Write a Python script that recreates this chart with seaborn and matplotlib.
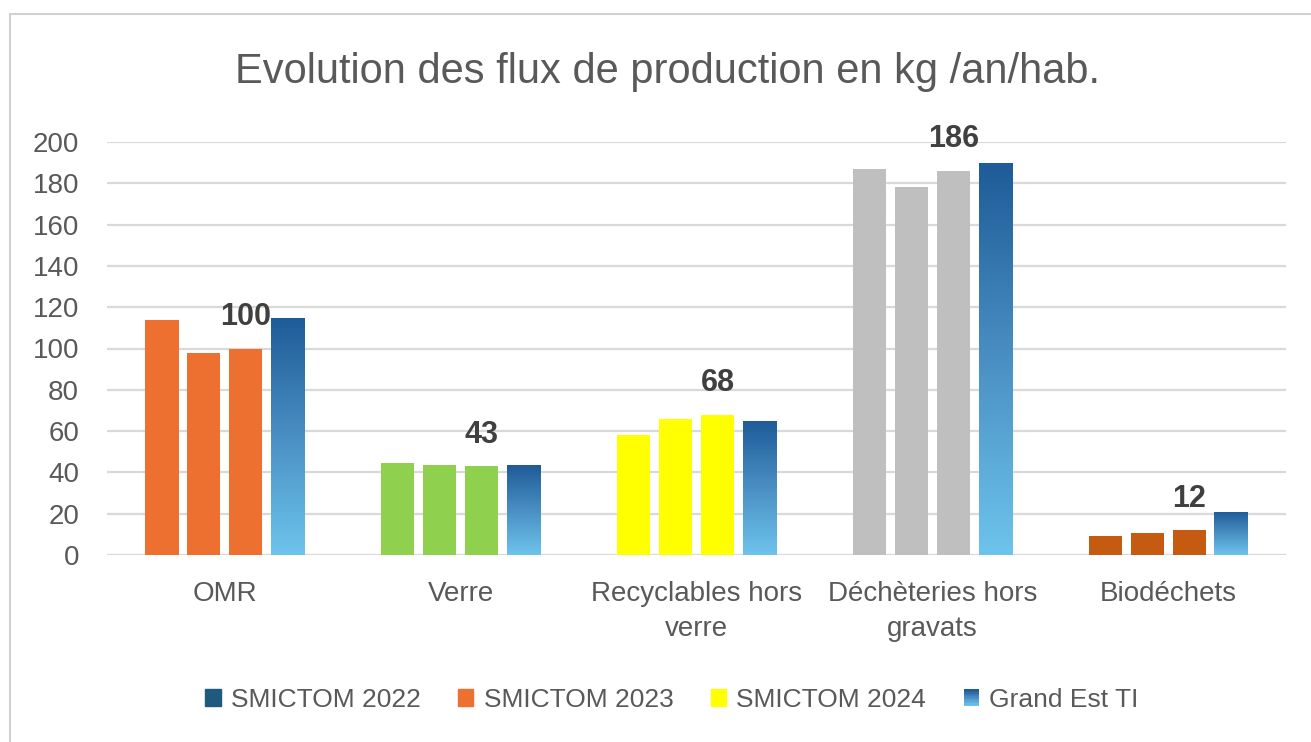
import numpy as np
import pandas as pd
import matplotlib
matplotlib.use("Agg")
import matplotlib.pyplot as plt
import seaborn as sns
from matplotlib.colors import LinearSegmentedColormap
from matplotlib.patches import Rectangle
from matplotlib.legend_handler import HandlerBase
from matplotlib.lines import Line2D

# données (kg/an/hab.)
categories = ["OMR", "Verre", "Recyclables hors\nverre", "Déchèteries hors\ngravats", "Biodéchets"]
series = ["SMICTOM 2022", "SMICTOM 2023", "SMICTOM 2024", "Grand Est TI"]
smictom_2022 = [114, 44.5, 58, 187, 9]
smictom_2023 = [98, 43.5, 66, 178, 10.5]
smictom_2024 = [100, 43, 68, 186, 12]
grand_est_ti = [115, 43.5, 65, 190, 21]
labels_2024 = ["100", "43", "68", "186", "12"]

cat_colors = ["#ED7031", "#8FD14F", "#FFFF00", "#BFBFBF", "#C55A11"]
legend_colors = ["#1F5A7E", "#ED7031", "#FFFF00"]
grad_colors = ["#6DC4EC", "#4A8FC3", "#1E5B98"]  # bas -> haut

text_grey = "#595959"

sns.set_theme(style="white")
plt.rcParams["font.family"] = ["Liberation Sans", "DejaVu Sans"]

df = pd.DataFrame({
    "categorie": categories * 4,
    "serie": [s for s in series for _ in categories],
    "valeur": smictom_2022 + smictom_2023 + smictom_2024 + grand_est_ti,
})

fig = plt.figure(figsize=(13.11, 7.42), dpi=100)
ax = fig.add_axes([107 / 1311, 1 - 555 / 742, (1286 - 107) / 1311, (555 - 142) / 742])

sns.barplot(data=df, x="categorie", y="valeur", hue="serie", order=categories,
            hue_order=series, palette=legend_colors + ["#4A8FC3"], width=0.712,
            gap=0.21, saturation=1, legend=False, ax=ax)

# une couleur par catégorie pour les 3 séries SMICTOM
for i, cont in enumerate(ax.containers[:3]):
    for j, bar in enumerate(cont):
        bar.set_facecolor(cat_colors[j])
        bar.set_edgecolor("none")

# dégradé bleu pour Grand Est TI
cmap = LinearSegmentedColormap.from_list("ge", grad_colors)
grad = np.linspace(0, 1, 256).reshape(-1, 1)
for bar in ax.containers[3]:
    bar.set_edgecolor("none")
    x0, w, h = bar.get_x(), bar.get_width(), bar.get_height()
    im = ax.imshow(grad, cmap=cmap, origin="lower", aspect="auto",
                   extent=[x0, x0 + w, 0, h], zorder=bar.get_zorder() + 0.1)
    im.set_clip_path(bar)

# étiquettes sur SMICTOM 2024
for bar, lab in zip(ax.containers[2], labels_2024):
    ax.annotate(lab, (bar.get_x() + bar.get_width() / 2, bar.get_height()),
                xytext=(0, 12), textcoords="offset points", ha="center", va="bottom",
                fontsize=22, fontweight="bold", color="#404040")

ax.set_xlim(-0.5, 4.5)
ax.set_ylim(0, 200)
ax.set_yticks(range(0, 201, 20))
ax.yaxis.grid(True, color="#D9D9D9", lw=1.6)
ax.set_axisbelow(True)
for s in ax.spines.values():
    s.set_visible(False)
ax.set_xlabel("")
ax.set_ylabel("")
ax.tick_params(axis="y", length=0, pad=20, labelsize=20, labelcolor=text_grey)
ax.tick_params(axis="x", length=0, pad=19, labelsize=20, labelcolor=text_grey)
for t in ax.get_xticklabels():
    t.set_linespacing(1.45)

fig.text(0.509, 1 - 72 / 742, "Evolution des flux de production en kg /an/hab.",
         ha="center", va="center", fontsize=30, color=text_grey)


class GradientHandler(HandlerBase):
    def create_artists(self, legend, orig_handle, xdescent, ydescent, width, height, fontsize, trans):
        n = 12
        arts = []
        for k in range(n):
            arts.append(Rectangle((-xdescent, -ydescent + k * height / n), width, height / n + 0.3,
                                  facecolor=cmap(k / (n - 1)), edgecolor="none", transform=trans))
        return arts


handles = [Rectangle((0, 0), 1, 1, color=c) for c in legend_colors]
grad_handle = Rectangle((0, 0), 1, 1, color=grad_colors[1])
handles.append(grad_handle)
leg = fig.legend(handles, series, loc="center", bbox_to_anchor=(672 / 1311, 1 - 700 / 742),
                 ncol=4, frameon=False, handlelength=0.57, handleheight=0.6,
                 handletextpad=0.38, columnspacing=1.44, prop={"size": 19},
                 handler_map={grad_handle: GradientHandler()})
for t in leg.get_texts():
    t.set_color(text_grey)

# cadre du graphique
fig.add_artist(Line2D([10 / 1311, 10 / 1311], [0, 1 - 14 / 742], color="#D0D0D0", lw=1.5))
fig.add_artist(Line2D([10 / 1311, 1], [1 - 14 / 742, 1 - 14 / 742], color="#D0D0D0", lw=1.5))

fig.savefig("out.png", dpi=100, facecolor="white")
